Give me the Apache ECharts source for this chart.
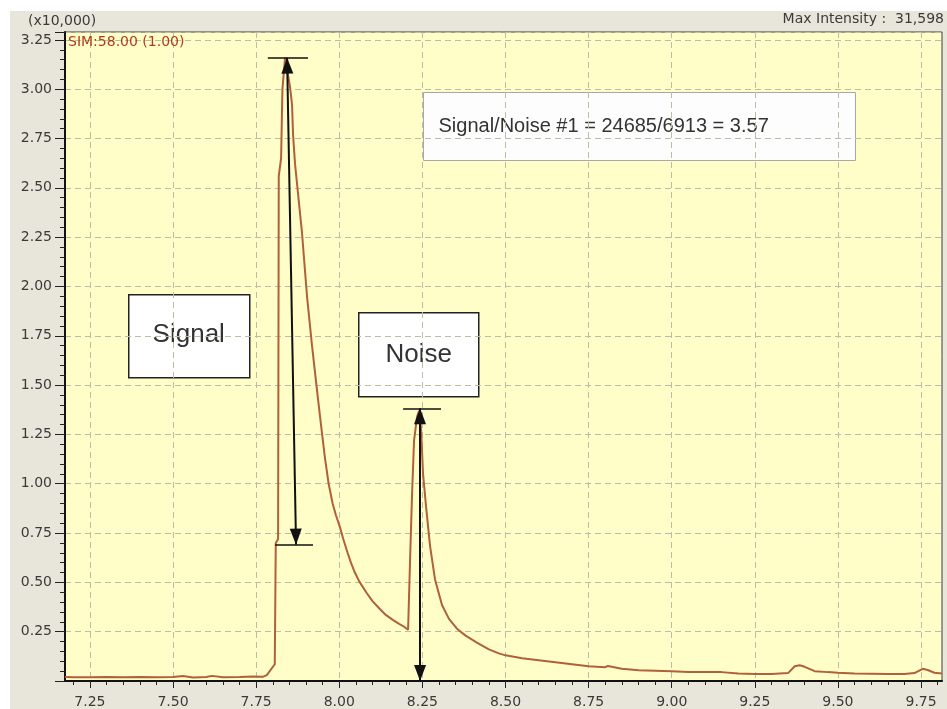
<!DOCTYPE html>
<html>
<head>
<meta charset="utf-8">
<script src="https://cdn.jsdelivr.net/npm/echarts@6/dist/echarts.min.js"></script>
<style>
  html, body { margin: 0; padding: 0; background: #ffffff; }
  #chart { width: 947px; height: 709px; }
</style>
</head>
<body>
<div id="chart"></div>
<script>
// SIM chromatogram, m/z 58.00 — retention time (min) vs intensity (counts)
const retentionTime = [
  7.175, 7.20, 7.25, 7.30, 7.35, 7.40, 7.45, 7.50, 7.53, 7.56, 7.60, 7.617, 7.65, 7.70, 7.74, 7.77, 7.782,
  7.806, 7.809, 7.816, 7.818, 7.825, 7.829, 7.837, 7.852, 7.858, 7.861, 7.867, 7.876, 7.888, 7.903,
  7.918, 7.936, 7.947, 7.957, 7.968, 7.980, 7.990, 8.002, 8.012, 8.025, 8.035, 8.047, 8.060, 8.083,
  8.100, 8.122, 8.140, 8.161, 8.180, 8.195, 8.207,
  8.213, 8.219, 8.225, 8.234, 8.240, 8.246, 8.252, 8.261, 8.273, 8.288, 8.309, 8.330, 8.354, 8.380, 8.414,
  8.45, 8.48, 8.50, 8.55, 8.60, 8.70, 8.75, 8.80, 8.808, 8.85, 8.90, 9.00, 9.05, 9.10, 9.15, 9.20,
  9.25, 9.30, 9.35, 9.37, 9.385, 9.40, 9.43, 9.47, 9.50, 9.55, 9.60, 9.65, 9.70, 9.73, 9.755,
  9.77, 9.79, 9.813
];
const intensity = [
  200, 195, 190, 200, 195, 200, 190, 200, 250, 180, 200, 260, 190, 200, 230, 210, 300,
  850, 7000, 7200, 25600, 26500, 30000, 31598, 30100, 29200, 27700, 26200, 24700, 22700, 19500,
  17000, 14300, 12700, 11300, 10000, 9000, 8400, 7800, 7200, 6500, 6000, 5500, 5050, 4450,
  4050, 3650, 3350, 3100, 2900, 2750, 2600,
  6150, 9500, 12200, 13400, 13700, 12800, 10500, 8850, 6850, 5150, 3850, 3150, 2650, 2300, 1950,
  1600, 1400, 1300, 1150, 1050, 850, 750, 700, 760, 620, 550, 500, 460, 450, 450, 380,
  360, 360, 400, 750, 800, 720, 500, 450, 420, 380, 370, 350, 350, 400, 620,
  560, 420, 380
];

// axis ticks
const xTicks = [7.25, 7.50, 7.75, 8.00, 8.25, 8.50, 8.75, 9.00, 9.25, 9.50, 9.75];
const xMinorStep = 0.05;
const yInterval = 2500;

// signal / noise measurement
const maxIntensity = 31598;
const signalHeight = 24685;
const noiseLevel = 6913;
const signalArrowTime = [7.843, 7.870];   // top, bottom
const signalTopBar = [7.785, 7.906];
const signalBottomBar = [7.807, 7.921];
const noiseArrowTime = 8.243;
const noiseBar = [8.192, 8.306];

const signalBase = maxIntensity - signalHeight;
const noisePeak = noiseLevel * 2;
const snRatio = (signalHeight / noiseLevel).toFixed(2);

const xMinorTicks = [];
for (let t = 7.20; t <= 9.81; t = Math.round((t + xMinorStep) * 1000) / 1000) xMinorTicks.push(t);

const series = retentionTime.map((t, i) => [t, intensity[i]]);

const axisFont = { fontFamily: 'DejaVu Sans', fontSize: 14, color: '#3a3a3a' };
const boxFont = 'Liberation Sans';

const arrowEnd = { symbol: 'triangle', symbolSize: [12, 16], symbolOffset: [0, 8] };
const barStyle = { color: '#111', width: 1.5, type: 'solid' };

const chart = echarts.init(document.getElementById('chart'), null, { renderer: 'canvas' });
chart.setOption({
  animation: false,
  backgroundColor: '#ffffff',
  grid: {
    left: 65, right: 5, top: 32, bottom: 20,
    show: true, backgroundColor: '#fffec8', borderColor: '#3c3c3c', borderWidth: 1
  },
  xAxis: [
    {
      type: 'value', position: 'bottom', min: 7.175, max: 9.813,
      axisLine: { lineStyle: { color: '#111', width: 2 } },
      axisTick: { customValues: xTicks, length: 7, lineStyle: { color: '#222' } },
      axisLabel: Object.assign({ customValues: xTicks, margin: 14, formatter: v => v.toFixed(2) }, axisFont),
      splitLine: { show: true, lineStyle: { color: '#bdbca6', type: [6, 4], width: 1 } }
    },
    {
      type: 'value', position: 'bottom', min: 7.175, max: 9.813,
      axisLine: { show: false },
      axisTick: { customValues: xMinorTicks, length: 4, lineStyle: { color: '#222' } },
      axisLabel: { show: false },
      splitLine: { show: false }
    }
  ],
  yAxis: {
    type: 'value', min: 0, max: 32900, interval: yInterval,
    axisLine: { show: true, lineStyle: { color: '#111', width: 2 } },
    axisTick: { show: true, length: 10, lineStyle: { color: '#222' } },
    minorTick: { show: true, splitNumber: 5, length: 5, lineStyle: { color: '#222' } },
    axisLabel: Object.assign({
      margin: 13, showMinLabel: false,
      formatter: v => (v === 0 ? '' : (v / 10000).toFixed(2))
    }, axisFont),
    splitLine: { show: true, lineStyle: { color: '#bdbca6', type: [6, 4], width: 1 } }
  },
  series: [{
    type: 'line',
    xAxisIndex: 0,
    data: series,
    showSymbol: false,
    lineStyle: { color: '#b0603a', width: 2 },
    z: 3,
    markLine: {
      silent: true,
      animation: false,
      label: { show: false },
      lineStyle: { color: '#111', width: 2, type: 'solid' },
      data: [
        [Object.assign({ coord: [signalArrowTime[0], maxIntensity] }, arrowEnd),
         Object.assign({ coord: [signalArrowTime[1], signalBase] }, arrowEnd)],
        [Object.assign({ coord: [noiseArrowTime, noisePeak] }, arrowEnd),
         Object.assign({ coord: [noiseArrowTime, 0] }, arrowEnd)],
        [{ coord: [signalTopBar[0], maxIntensity], symbol: 'none', lineStyle: barStyle },
         { coord: [signalTopBar[1], maxIntensity], symbol: 'none' }],
        [{ coord: [signalBottomBar[0], signalBase], symbol: 'none', lineStyle: barStyle },
         { coord: [signalBottomBar[1], signalBase], symbol: 'none' }],
        [{ coord: [noiseBar[0], noisePeak], symbol: 'none', lineStyle: barStyle },
         { coord: [noiseBar[1], noisePeak], symbol: 'none' }]
      ]
    }
  }],
  graphic: [
    { type: 'rect', z: -10, silent: true, shape: { x: 10, y: 11, width: 937, height: 698 }, style: { fill: '#e8e6da' } },
    { type: 'text', left: 28, top: 14, style: { text: '(x10,000)', font: '14px "DejaVu Sans"', fill: '#3a3a3a' } },
    { type: 'text', right: 3, top: 12, style: { text: 'Max Intensity :  ' + maxIntensity.toLocaleString('en-US'), font: '14px "DejaVu Sans"', fill: '#3a3a3a' } },
    { type: 'text', left: 68, top: 35, z: 10, style: { text: 'SIM:58.00 (1.00)', font: '14px "DejaVu Sans"', fill: '#b03a20' } },
    {
      type: 'group', left: 423, top: 92, z: 20,
      children: [
        { type: 'rect', shape: { x: 0, y: 0, width: 432, height: 68 }, style: { fill: '#fdfdfd', stroke: '#a8a8a8', lineWidth: 1 } },
        { type: 'text', x: 15, y: 34, style: { text: 'Signal/Noise #1 = ' + signalHeight + '/' + noiseLevel + ' = ' + snRatio, font: '20px "' + boxFont + '"', fill: '#333', verticalAlign: 'middle' } }
      ]
    },
    {
      type: 'group', left: 128, top: 294, z: 20,
      children: [
        { type: 'rect', shape: { x: 0, y: 0, width: 121, height: 83 }, style: { fill: '#ffffff', stroke: '#222', lineWidth: 1.5 } },
        { type: 'text', x: 60, y: 40, style: { text: 'Signal', font: '26px "' + boxFont + '"', fill: '#333', align: 'center', verticalAlign: 'middle' } }
      ]
    },
    {
      type: 'group', left: 358, top: 312, z: 20,
      children: [
        { type: 'rect', shape: { x: 0, y: 0, width: 120, height: 84 }, style: { fill: '#ffffff', stroke: '#222', lineWidth: 1.5 } },
        { type: 'text', x: 60, y: 42, style: { text: 'Noise', font: '26px "' + boxFont + '"', fill: '#333', align: 'center', verticalAlign: 'middle' } }
      ]
    }
  ]
});
</script>
</body>
</html>
